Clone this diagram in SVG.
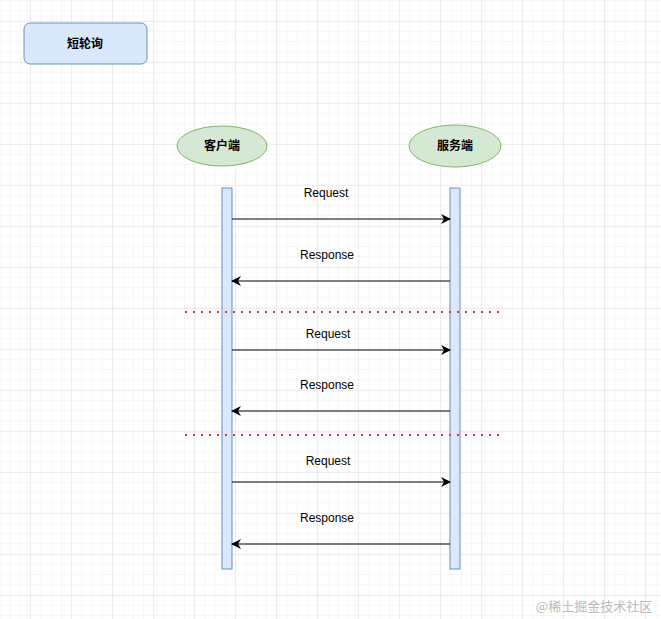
<svg xmlns="http://www.w3.org/2000/svg" width="661" height="619" viewBox="0 0 661 619">
<defs>
<pattern id="minor" width="10.25" height="10.25" patternUnits="userSpaceOnUse" x="0.5" y="1"><path d="M10.25 0V10.25M0 10.25H10.25" fill="none" stroke="#f0f0f0" stroke-width="1"/></pattern>
<pattern id="major" width="41" height="41" patternUnits="userSpaceOnUse" x="-10" y="-19"><path d="M41 0V41M0 41H41" fill="none" stroke="#e0e0e0" stroke-width="1"/></pattern>
<marker id="ah" markerWidth="10" markerHeight="10" refX="9" refY="5" orient="auto" markerUnits="userSpaceOnUse"><path d="M0,0 L10,5 L0,10 L3,5 Z" fill="#000"/></marker>
</defs>
<style>
.t{font-family:"Liberation Sans","Noto Sans CJK SC",sans-serif;font-size:12px;fill:#000;text-anchor:middle}
.cn{font-family:"Noto Sans CJK SC",sans-serif;font-size:12px;font-weight:bold;fill:#000;text-anchor:middle}
.ell{fill:#d5e8d4;stroke:#82b366}
.life{fill:#dae8fc;stroke:#6c8ebf}
.arr{stroke:#000;stroke-width:1;marker-end:url(#ah)}
.dot{stroke:#e0303a;stroke-width:2;stroke-dasharray:2 6}
</style>
<rect width="661" height="619" fill="#fff"/>
<rect width="661" height="619" fill="url(#minor)"/>
<rect width="661" height="619" fill="url(#major)"/>
<g id="title"><rect x="24" y="23" width="123" height="41" rx="6" fill="#dae8fc" stroke="#6c8ebf"/><text class="cn" x="85" y="48">短轮询</text></g>
<g id="client"><ellipse class="ell" cx="222" cy="146" rx="45" ry="20"/><text class="cn" x="222" y="150">客户端</text></g>
<g id="server"><ellipse class="ell" cx="455" cy="146" rx="46" ry="21"/><text class="cn" x="455" y="150">服务端</text></g>
<g id="client-life"><rect class="life" x="222" y="188" width="10" height="381"/></g>
<g id="server-life"><rect class="life" x="450" y="188" width="10" height="381"/></g>
<g id="connectors">
<line class="arr" x1="232" y1="219" x2="450" y2="219"/>
<line class="arr" x1="450" y1="281" x2="232" y2="281"/>
<line class="arr" x1="232" y1="350" x2="450" y2="350"/>
<line class="arr" x1="450" y1="411" x2="232" y2="411"/>
<line class="arr" x1="232" y1="482" x2="450" y2="482"/>
<line class="arr" x1="450" y1="544" x2="232" y2="544"/>
<line class="dot" x1="185" y1="312" x2="500" y2="312"/>
<line class="dot" x1="185" y1="435" x2="500" y2="435"/>
</g>
<g id="labels">
<text class="t" x="326" y="197">Request</text>
<text class="t" x="327" y="259">Response</text>
<text class="t" x="328" y="338">Request</text>
<text class="t" x="327" y="389">Response</text>
<text class="t" x="328" y="465">Request</text>
<text class="t" x="327" y="522">Response</text>
</g>
<text x="594" y="611" font-family="Noto Sans CJK SC,sans-serif" font-size="13" fill="#bbb" text-anchor="middle">@稀土掘金技术社区</text>
</svg>
